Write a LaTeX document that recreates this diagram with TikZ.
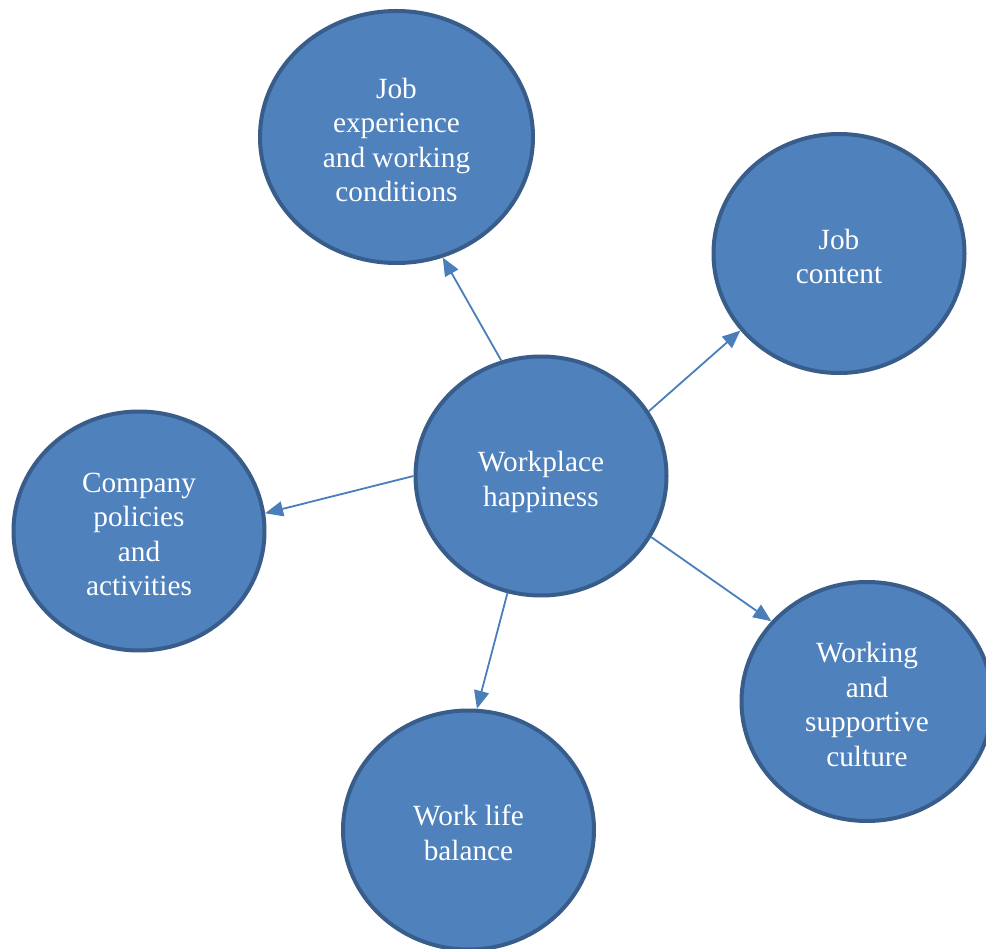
\documentclass[tikz,border=0pt]{standalone}
\usepackage{fontspec}
\setmainfont{Liberation Serif}
\usetikzlibrary{shapes.geometric,arrows.meta}
\definecolor{bubblefill}{HTML}{4F81BD}
\definecolor{bubbleedge}{HTML}{385D8A}
\definecolor{linkblue}{HTML}{4A7EBB}
% centred stack of lines, lowered a little while keeping the box size
\newcommand\bubbletext[1]{\raisebox{-6pt}[\height][\depth]{\begin{tabular}{@{}c@{}}#1\end{tabular}}}
\tikzset{
  bubble/.style={ellipse, draw=bubbleedge, fill=bubblefill, line width=4pt,
    inner sep=0pt, minimum width=251pt, minimum height=239pt,
    text=white,
    font=\fontsize{29.3pt}{34.5pt}\selectfont},
  link/.style={draw=linkblue, line width=1.8pt,
    -{Triangle[length=18pt,width=15pt]}}
}
\begin{document}
\begin{tikzpicture}[x=1pt,y=-1pt]
\useasboundingbox (0,0) rectangle (986,949);
\clip (0,0) rectangle (986,949);
% hub and the five factors around it
\node[bubble] (hub) at (541,476) {\bubbletext{Workplace\\happiness}};
\node[bubble, minimum width=273pt, minimum height=252pt] (exp) at (396.5,137)
  {\bubbletext{Job\\experience\\and working\\conditions}};
\node[bubble] (content) at (839,253.5) {\bubbletext{Job\\content}};
\node[bubble] (policy) at (139,531) {\bubbletext{Company\\policies\\and\\activities}};
\node[bubble] (balance) at (468.5,830) {\bubbletext{Work life\\balance}};
\node[bubble] (culture) at (867,701.5) {\bubbletext{Working\\and\\supportive\\culture}};
% connectors from the hub
\draw[link] (hub.109) -- (exp.291);
\draw[link] (hub.31) -- (content.218);
\draw[link] (hub.180.4) -- (policy.8.6);
\draw[link] (hub.254) -- (balance.86);
\draw[link] (hub.-29) -- (culture.140);
\end{tikzpicture}
\end{document}
